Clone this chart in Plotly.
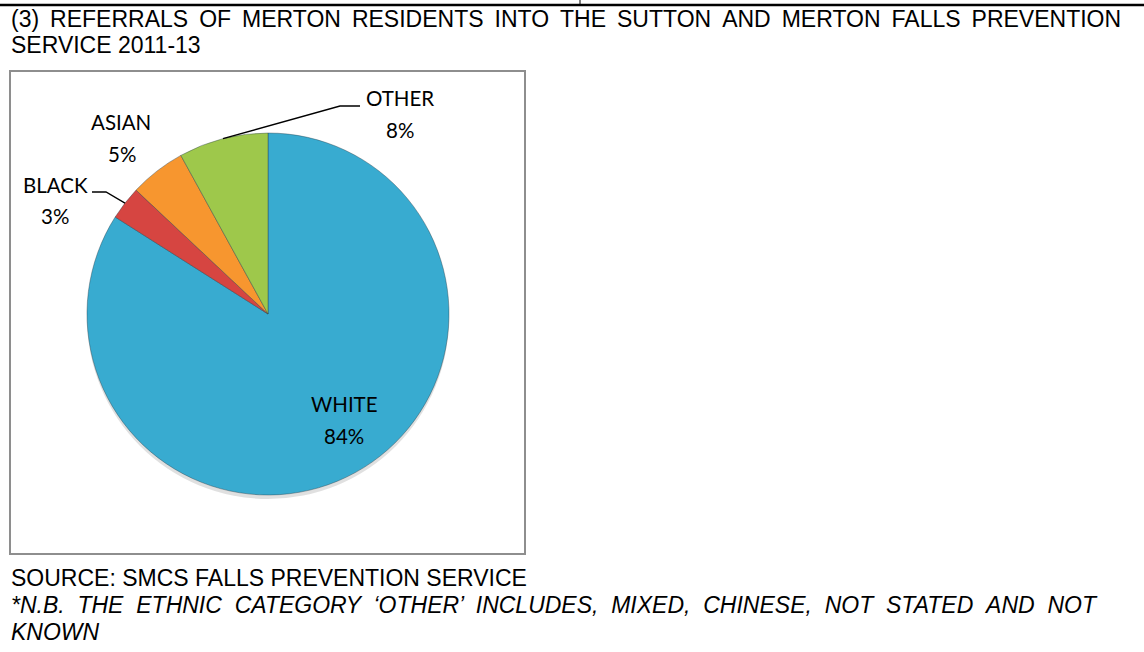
import math
import plotly.graph_objects as go

W, H = 1144, 652

# ---- data ----
labels = ["WHITE", "BLACK", "ASIAN", "OTHER"]
values = [84, 3, 5, 8]
colors = ["#38ABD0", "#D64541", "#F7962F", "#9EC84B"]

title_lines = [
    "(3) REFERRALS OF MERTON RESIDENTS INTO THE SUTTON AND MERTON FALLS PREVENTION",
    "SERVICE 2011-13",
]
source_text = "SOURCE: SMCS FALLS PREVENTION SERVICE"
note_lines = [
    "*N.B. THE ETHNIC CATEGORY \u2018OTHER\u2019 INCLUDES, MIXED, CHINESE, NOT STATED AND NOT",
    "KNOWN",
]

# ---- layout (pixels) ----
PIE_CX, PIE_CY, PIE_R = 268, 314, 181
BOX = (10, 71, 525, 554)
# label name centre / percent centre (px)
label_pos = {
    "WHITE": ((344, 404), (344, 436)),
    "BLACK": ((55, 185), (55, 216)),
    "ASIAN": ((121, 122), (122, 154)),
    "OTHER": ((400, 98), (400, 130)),
}
# leader lines: elbow, end (px)
leaders = {
    "BLACK": ((106, 192), (92, 192)),
    "OTHER": ((340, 106), (360, 106)),
}


def px(x):
    return x / W


def py(y):
    return 1 - y / H


fig = go.Figure()
fig.add_trace(go.Pie(
    labels=labels,
    values=values,
    sort=False,
    direction="clockwise",
    rotation=0,
    textinfo="none",
    hoverinfo="label+percent",
    marker=dict(colors=colors, line=dict(color="rgba(40,60,70,0.4)", width=1)),
    domain=dict(x=[px(PIE_CX - PIE_R), px(PIE_CX + PIE_R)],
                y=[py(PIE_CY + PIE_R), py(PIE_CY - PIE_R)]),
    showlegend=False,
))

annotations = []
shapes = []

# soft shadow under the pie
shapes.append(dict(type="circle", xref="paper", yref="paper", layer="below",
                   x0=px(PIE_CX - PIE_R), x1=px(PIE_CX + PIE_R),
                   y0=py(PIE_CY + PIE_R + 4), y1=py(PIE_CY - PIE_R + 4),
                   fillcolor="rgba(0,0,0,0.12)", line=dict(width=0)))

lab_font = dict(family="Lato", size=20.5, color="#000000")
total = sum(values)
cum = 0
for lab, val in zip(labels, values):
    mid = (cum + val / 2) / total * 2 * math.pi
    cum += val
    (nx, ny), (vx, vy) = label_pos[lab]
    annotations.append(dict(x=px(nx), y=py(ny), xref="paper", yref="paper",
                            text=lab, showarrow=False, xanchor="center",
                            yanchor="middle", font=lab_font))
    annotations.append(dict(x=px(vx), y=py(vy), xref="paper", yref="paper",
                            text=f"{round(val / total * 100)}%", showarrow=False,
                            xanchor="center", yanchor="middle", font=lab_font))
    if lab in leaders:
        sx = PIE_CX + PIE_R * math.sin(mid)
        sy = PIE_CY - PIE_R * math.cos(mid)
        (ex, ey), (fx, fy) = leaders[lab]
        path = f"M {px(sx)},{py(sy)} L {px(ex)},{py(ey)} L {px(fx)},{py(fy)}"
        shapes.append(dict(type="path", xref="paper", yref="paper", path=path,
                           line=dict(color="#000000", width=1.3)))

body_font = dict(family="Liberation Sans", size=23, color="#000000")
ital_font = dict(family="Liberation Sans", size=23, color="#000000", style="italic")


def justify(s, extra):
    return s.replace(" ", " " + extra)


text_rows = [
    (justify(title_lines[0], "\u2009"), 19, body_font),
    (title_lines[1], 45, body_font),
    (source_text, 578, body_font),
    (justify(note_lines[0], "\u00a0"), 605, ital_font),
    (note_lines[1], 632, ital_font),
]
for txt, yc, f in text_rows:
    annotations.append(dict(x=px(9), y=py(yc), xref="paper", yref="paper",
                            text=txt, showarrow=False, xanchor="left",
                            yanchor="middle", font=f))

# chart frame
x0, y0, x1, y1 = BOX
shapes.append(dict(type="rect", xref="paper", yref="paper",
                   x0=px(x0), x1=px(x1), y0=py(y1), y1=py(y0),
                   line=dict(color="#8E8E8E", width=2)))
# table rule at top
shapes.append(dict(type="line", xref="paper", yref="paper",
                   x0=0, x1=1, y0=py(5), y1=py(5),
                   line=dict(color="#000000", width=2.5)))
shapes.append(dict(type="line", xref="paper", yref="paper",
                   x0=px(580), x1=px(580), y0=py(0), y1=py(5),
                   line=dict(color="#000000", width=1)))

fig.update_layout(
    width=W, height=H,
    margin=dict(l=0, r=0, t=0, b=0),
    paper_bgcolor="#FFFFFF",
    plot_bgcolor="rgba(0,0,0,0)",
    annotations=annotations,
    shapes=shapes,
)

fig.write_html(
    "out.html",
    config={"displayModeBar": False},
    post_script="document.body.style.margin='0';document.body.style.overflow='hidden';",
)
